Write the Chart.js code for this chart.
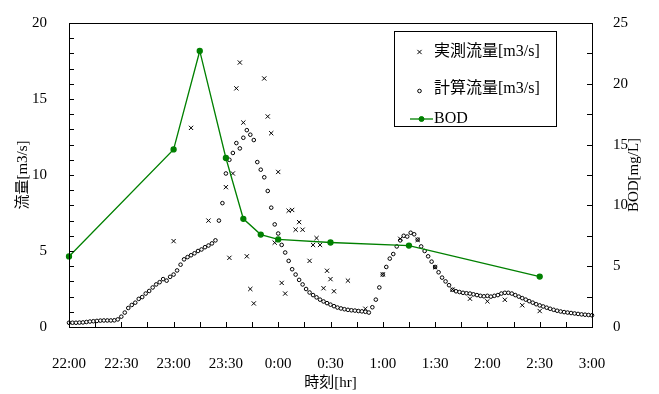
<!DOCTYPE html>
<html><head><meta charset="utf-8">
<script src="https://cdn.jsdelivr.net/npm/chart.js@4.4.0/dist/chart.umd.min.js"></script>
<style>html,body{margin:0;padding:0;background:#fff}#wrap{width:659px;height:394px;position:relative}</style>
</head><body><div id="wrap"><canvas id="c"></canvas></div>
<script>
// x values are minutes after 22:00
const timeLabels = ['22:00','22:30','23:00','23:30','0:00','0:30','1:00','1:30','2:00','2:30','3:00'];

const measTime = [60,70,80,90,92,94,96,98,100,102,104,106,112,114,116,118,120,122,124,126,128,130,132,134,138,140,142,144,146,148,150,152,160,170,180,190,200,210,220,230,240,250,260,270];
const measFlow = [5.65,13.1,7.0,9.2,4.55,10.1,15.7,17.4,13.45,4.65,2.5,1.55,16.35,13.85,12.75,5.55,10.2,2.9,2.2,7.65,7.7,6.4,6.9,6.4,4.35,5.4,5.85,5.4,2.55,3.7,3.15,2.35,3.05,1.2,3.46,5.8,5.73,3.93,2.46,1.86,1.69,1.79,1.43,1.05];

const calcTime = [0,2,4,6,8,10,12,14,16,18,20,22,24,26,28,30,32,34,36,38,40,42,44,46,48,50,52,54,56,58,60,62,64,66,68,70,72,74,76,78,80,82,84,86,88,90,92,94,96,98,100,102,104,106,108,110,112,114,116,118,120,122,124,126,128,130,132,134,136,138,140,142,144,146,148,150,152,154,156,158,160,162,164,166,168,170,172,174,176,178,180,182,184,186,188,190,192,194,196,198,200,202,204,206,208,210,212,214,216,218,220,222,224,226,228,230,232,234,236,238,240,242,244,246,248,250,252,254,256,258,260,262,264,266,268,270,272,274,276,278,280,282,284,286,288,290,292,294,296,298,300];
const calcFlow = [0.28,0.28,0.28,0.29,0.30,0.33,0.36,0.38,0.40,0.42,0.43,0.43,0.43,0.44,0.50,0.68,0.95,1.25,1.45,1.60,1.85,1.97,2.20,2.37,2.60,2.80,2.95,3.15,3.05,3.30,3.45,3.72,4.10,4.45,4.60,4.72,4.85,5.00,5.10,5.25,5.36,5.50,5.70,7.00,8.15,10.10,11.00,11.45,12.10,11.75,12.45,12.95,12.65,12.30,10.85,10.35,9.85,8.95,7.85,6.75,6.15,5.40,4.90,4.35,3.80,3.45,3.10,2.80,2.50,2.27,2.10,1.95,1.80,1.68,1.57,1.47,1.37,1.28,1.22,1.17,1.13,1.10,1.08,1.05,1.03,1.00,0.95,1.30,1.80,2.60,3.45,3.95,4.50,4.80,5.30,5.70,6.00,5.95,6.20,6.10,5.75,5.30,5.00,4.65,4.30,3.95,3.60,3.25,3.00,2.75,2.45,2.35,2.30,2.25,2.22,2.20,2.15,2.10,2.05,2.02,2.05,2.00,2.05,2.10,2.20,2.25,2.25,2.20,2.10,2.00,1.90,1.80,1.70,1.60,1.50,1.42,1.35,1.27,1.20,1.13,1.07,1.02,0.98,0.95,0.92,0.89,0.86,0.83,0.81,0.79,0.77];

const bodTime = [0,60,75,90,100,110,120,150,195,270];
const bodVal  = [5.8,14.6,22.7,13.9,8.9,7.6,7.2,6.95,6.7,4.15];

const labels = ['実測流量[m3/s]','計算流量[m3/s]','BOD'];
const GREEN = 'rgb(0,128,0)';
const FONT = "'Liberation Serif','Noto Sans CJK JP',serif";

const pts = (xs, ys) => xs.map((x, i) => ({x, y: ys[i]}));

const frameTicks = {
  id: 'frameTicks',
  afterDatasetsDraw(chart) {
    const {ctx, chartArea: a, scales} = chart;
    ctx.save();
    ctx.strokeStyle = '#000';
    ctx.lineWidth = 1;
    ctx.strokeRect(Math.round(a.left) + 0.5, Math.round(a.top) + 0.5, Math.round(a.right - a.left), Math.round(a.bottom - a.top));
    ctx.beginPath();
    scales.x.ticks.forEach(t => {
      const p = Math.round(scales.x.getPixelForValue(t.value)) + 0.5;
      ctx.moveTo(p, a.bottom); ctx.lineTo(p, a.bottom - 5);
    });
    scales.y.ticks.forEach(t => {
      const p = Math.round(scales.y.getPixelForValue(t.value)) + 0.5;
      ctx.moveTo(a.left, p); ctx.lineTo(a.left + 5, p);
    });
    scales.y2.ticks.forEach(t => {
      const p = Math.round(scales.y2.getPixelForValue(t.value)) + 0.5;
      ctx.moveTo(a.right, p); ctx.lineTo(a.right - 5, p);
    });
    ctx.stroke();
    ctx.restore();
  },
  afterDraw(chart) {
    const {ctx, chartArea: a, data} = chart;
    ctx.save();
    // right axis title (reads bottom to top)
    ctx.fillStyle = '#000';
    ctx.font = '15px ' + FONT;
    ctx.textAlign = 'center';
    ctx.textBaseline = 'middle';
    ctx.translate(634, (a.top + a.bottom) / 2);
    ctx.rotate(-Math.PI / 2);
    ctx.fillText('BOD[mg/L]', 0, 0);
    ctx.restore();

    // legend box
    ctx.save();
    const bx = 394, by = 31, bw = 162, bh = 95;
    ctx.fillStyle = '#fff';
    ctx.fillRect(bx, by, bw, bh);
    ctx.strokeStyle = '#000';
    ctx.lineWidth = 1;
    ctx.strokeRect(bx + 0.5, by + 0.5, bw, bh);
    const rows = [52, 89, 119];
    ctx.font = '16px ' + FONT;
    ctx.textAlign = 'left';
    ctx.textBaseline = 'middle';
    ctx.fillStyle = '#000';
    data.datasets.forEach((ds, i) => {
      const y = rows[i];
      if (ds.type === 'line') {
        ctx.strokeStyle = ds.borderColor;
        ctx.lineWidth = ds.borderWidth;
        ctx.beginPath(); ctx.moveTo(410, y); ctx.lineTo(433, y); ctx.stroke();
      }
      ctx.strokeStyle = ds.borderColor;
      ctx.fillStyle = ds.pointBackgroundColor || ds.backgroundColor;
      ctx.lineWidth = 1;
      Chart.helpers.drawPoint(ctx, {pointStyle: ds.pointStyle, radius: ds.pointRadius, borderWidth: 1, rotation: 0}, ds.type === 'line' ? 421.5 : 419.5, y + (i === 1 ? 2 : 0));
      ctx.fillStyle = '#000';
      ctx.fillText(ds.label, 434, y);
    });
    ctx.restore();
  }
};

new Chart(document.getElementById('c'), {
  data: {
    datasets: [
      {type: 'scatter', label: labels[0], data: pts(measTime, measFlow), yAxisID: 'y',
       pointStyle: 'crossRot', pointRadius: 3, borderColor: '#000', backgroundColor: '#000', borderWidth: 1, order: 1, clip: false},
      {type: 'scatter', label: labels[1], data: pts(calcTime, calcFlow), yAxisID: 'y',
       pointStyle: 'circle', pointRadius: 1.8, borderColor: '#000', backgroundColor: '#fff', borderWidth: 1, order: 2, clip: false},
      {type: 'line', label: labels[2], data: pts(bodTime, bodVal), yAxisID: 'y2',
       borderColor: GREEN, borderWidth: 1.3, pointStyle: 'circle', pointRadius: 2.5, pointBackgroundColor: GREEN,
       pointBorderColor: GREEN, backgroundColor: GREEN, tension: 0, fill: false, order: 0, clip: false}
    ]
  },
  options: {
    responsive: true, maintainAspectRatio: false, animation: false, devicePixelRatio: 1,
    layout: {padding: {top: 15, left: 0, right: 0, bottom: 0}},
    plugins: {legend: {display: false}, tooltip: {enabled: false}},
    scales: {
      x: {
        type: 'linear', position: 'bottom', min: 0, max: 300,
        grid: {display: false}, border: {display: false},
        ticks: {stepSize: 15, autoSkip: false, maxRotation: 0, color: '#000', padding: 20,
                font: {family: FONT, size: 15},
                callback: v => (v % 30 === 0 ? timeLabels[v / 30] : '')},
        title: {display: true, text: '時刻[hr]', color: '#000', font: {family: FONT, size: 15}, padding: {top: 0, bottom: 2}},
        afterFit: s => { s.height = 67; }
      },
      y: {
        type: 'linear', position: 'left', min: 0, max: 20,
        grid: {display: false}, border: {display: false},
        ticks: {stepSize: 1, autoSkip: false, color: '#000', padding: 14, font: {family: FONT, size: 15},
                callback: v => (v % 5 === 0 ? String(v) : '')},
        title: {display: true, text: '流量[m3/s]', color: '#000', font: {family: FONT, size: 15}, padding: {top: 14, bottom: 0}},
        afterFit: s => { s.width = 69; }
      },
      y2: {
        type: 'linear', position: 'right', min: 0, max: 25,
        grid: {display: false}, border: {display: false},
        ticks: {stepSize: 2.5, autoSkip: false, color: '#000', padding: 13, font: {family: FONT, size: 15},
                callback: v => (v % 5 === 0 ? String(v) : '')},
        afterFit: s => { s.width = 67; }
      }
    }
  },
  plugins: [frameTicks]
});
</script>
</body></html>
